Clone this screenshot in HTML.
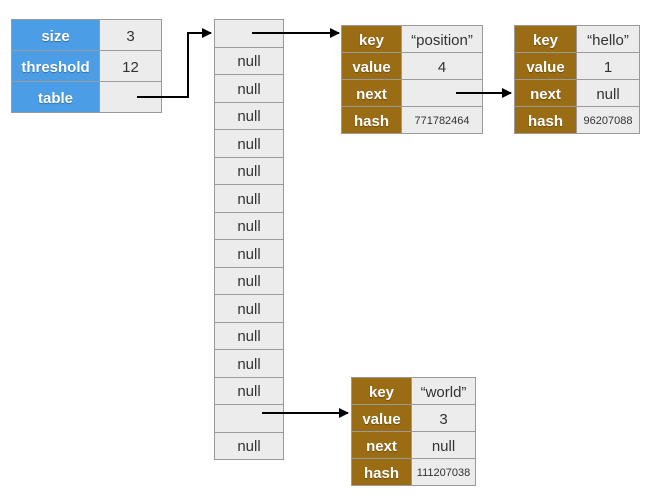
<!DOCTYPE html>
<html><head><style>
body{margin:0;width:658px;height:501px;background:#fff;position:relative;overflow:hidden;font-family:"Liberation Sans",sans-serif}
.t{position:absolute;border-collapse:collapse}
.t td{border:1px solid #9a9a9a;text-align:center;padding:2px 0 0 0;font-size:15px;color:#333;background:#ececec}
.t td.b{background:#4b9de6;color:#fff;font-weight:bold;text-shadow:0 1px 1px rgba(0,0,0,.3)}
.t td.g{background:#9a6c14;color:#fff;font-weight:bold;font-size:15px;text-shadow:0 1px 1px rgba(0,0,0,.3)}
.s{font-size:11px!important}
svg{position:absolute;left:0;top:0}
</style></head><body>
<table class="t" style="left:11px;top:19px;width:151px">
<tr style="height:31px"><td class="b" style="width:87px">size</td><td>3</td></tr>
<tr style="height:31px"><td class="b">threshold</td><td>12</td></tr>
<tr style="height:31px"><td class="b">table</td><td></td></tr>
</table>
<table class="t" style="left:214px;top:19px;width:70px">
<tr style="height:27.5px"><td></td></tr>
<tr style="height:27.5px"><td>null</td></tr><tr style="height:27.5px"><td>null</td></tr><tr style="height:27.5px"><td>null</td></tr>
<tr style="height:27.5px"><td>null</td></tr><tr style="height:27.5px"><td>null</td></tr><tr style="height:27.5px"><td>null</td></tr>
<tr style="height:27.5px"><td>null</td></tr><tr style="height:27.5px"><td>null</td></tr><tr style="height:27.5px"><td>null</td></tr>
<tr style="height:27.5px"><td>null</td></tr><tr style="height:27.5px"><td>null</td></tr><tr style="height:27.5px"><td>null</td></tr>
<tr style="height:27.5px"><td>null</td></tr><tr style="height:27.5px"><td></td></tr><tr style="height:27.5px"><td>null</td></tr>
</table>
<table class="t" style="left:341px;top:25px;width:142px">
<tr style="height:27px"><td class="g" style="width:59px">key</td><td>“position”</td></tr>
<tr style="height:27px"><td class="g">value</td><td>4</td></tr>
<tr style="height:27px"><td class="g">next</td><td></td></tr>
<tr style="height:27px"><td class="g">hash</td><td class="s">771782464</td></tr>
</table>
<table class="t" style="left:514px;top:25px;width:126px">
<tr style="height:27px"><td class="g" style="width:61px">key</td><td>“hello”</td></tr>
<tr style="height:27px"><td class="g">value</td><td>1</td></tr>
<tr style="height:27px"><td class="g">next</td><td>null</td></tr>
<tr style="height:27px"><td class="g">hash</td><td class="s">96207088</td></tr>
</table>
<table class="t" style="left:351px;top:377px;width:125px">
<tr style="height:27px"><td class="g" style="width:59px">key</td><td>“world”</td></tr>
<tr style="height:27px"><td class="g">value</td><td>3</td></tr>
<tr style="height:27px"><td class="g">next</td><td>null</td></tr>
<tr style="height:27px"><td class="g">hash</td><td class="s">111207038</td></tr>
</table>
<svg width="658" height="501">
<defs><marker id="a" markerWidth="10" markerHeight="10" refX="9" refY="5" orient="auto" markerUnits="userSpaceOnUse"><path d="M0,0 L10,5 L0,10z" fill="#000"/></marker></defs>
<g stroke="#000" stroke-width="2" fill="none" marker-end="url(#a)">
<path d="M137,97 H188 V33 H211"/>
<path d="M252,33 H339"/>
<path d="M456,93 H511"/>
<path d="M262,413 H348"/>
</g></svg>
</body></html>
